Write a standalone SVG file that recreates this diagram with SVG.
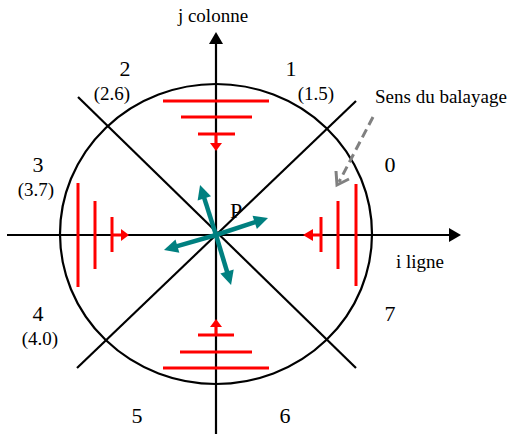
<svg xmlns="http://www.w3.org/2000/svg" width="510" height="434" viewBox="0 0 510 434">
<style>
.t{font-family:"Liberation Serif","Times New Roman",serif;fill:#000}
.n{font-size:22px}
.s{font-size:19px}
.l{font-size:19px}
.k{stroke:#000;stroke-width:2.2;fill:none}
.r{stroke:#ff0000;stroke-width:3;fill:none}
.rf{fill:#ff0000;stroke:none}
.tl{stroke:#008080;stroke-width:4.5;fill:none;marker-end:url(#ta)}
</style>
<defs>
<marker id="ta" markerUnits="userSpaceOnUse" viewBox="-4 -8 20 16" markerWidth="20" markerHeight="16" refX="0" refY="0" orient="auto">
<path d="M-2,-7 L12,0 L-2,7 z" fill="#008080"/>
</marker>
</defs>
<g id="axes">
<line class="k" x1="216" y1="434" x2="216" y2="42"/>
<polygon points="209,44 223,44 216,32" fill="#000"/>
<line class="k" x1="7" y1="235" x2="450" y2="235"/>
<polygon points="449,228 449,242 461,235" fill="#000"/>
</g>
<g id="circle"><ellipse class="k" cx="216" cy="234" rx="156" ry="150" stroke-width="2.5"/></g>
<g id="diagonals">
<line class="k" x1="78" y1="97" x2="356" y2="368"/>
<line class="k" x1="77" y1="368" x2="356" y2="101"/>
</g>
<g id="scan-top">
<line class="r" x1="163" y1="101" x2="269" y2="101"/>
<line class="r" x1="181" y1="117" x2="252" y2="117"/>
<line class="r" x1="198" y1="134" x2="235" y2="134"/>
<line class="r" x1="216" y1="134" x2="216" y2="144"/>
<polygon class="rf" points="210,143 222,143 216,151"/>
</g>
<g id="scan-bottom">
<line class="r" x1="163" y1="368" x2="269" y2="368"/>
<line class="r" x1="180" y1="352" x2="252" y2="352"/>
<line class="r" x1="198" y1="335" x2="234" y2="335"/>
<line class="r" x1="216" y1="326" x2="216" y2="335"/>
<polygon class="rf" points="210,327 222,327 216,319"/>
</g>
<g id="scan-left">
<line class="r" x1="78" y1="183" x2="78" y2="287"/>
<line class="r" x1="95" y1="201" x2="95" y2="269"/>
<line class="r" x1="112" y1="217" x2="112" y2="252"/>
<line class="r" x1="112" y1="235" x2="122" y2="235"/>
<polygon class="rf" points="121,229 121,241 129,235"/>
</g>
<g id="scan-right">
<line class="r" x1="356" y1="184" x2="356" y2="286"/>
<line class="r" x1="338" y1="201" x2="338" y2="269"/>
<line class="r" x1="321" y1="217" x2="321" y2="252"/>
<line class="r" x1="312" y1="235" x2="321" y2="235"/>
<polygon class="rf" points="313,229 313,241 303,235"/>
</g>
<g id="connectors">
<line class="tl" x1="216" y1="235" x2="203.7" y2="196.4"/>
<line class="tl" x1="216" y1="235" x2="256.6" y2="221.7"/>
<line class="tl" x1="216" y1="235" x2="175.5" y2="246.7"/>
<line class="tl" x1="216" y1="235" x2="227.6" y2="273.5"/>
<line x1="373" y1="117" x2="339" y2="182" stroke="#808080" stroke-width="3" stroke-dasharray="9,5"/>
<polyline points="336,171 337,185 349,179" stroke="#808080" stroke-width="3" fill="none"/>
</g>
<g id="labels">
<text class="t l" x="213" y="22" text-anchor="middle">j colonne</text>
<text class="t n" x="125" y="76" text-anchor="middle">2</text>
<text class="t s" x="112" y="100" text-anchor="middle">(2.6)</text>
<text class="t n" x="291" y="76" text-anchor="middle">1</text>
<text class="t s" x="316" y="100" text-anchor="middle">(1.5)</text>
<text class="t l" x="375" y="103">Sens du balayage</text>
<text class="t n" x="390" y="172" text-anchor="middle">0</text>
<text class="t n" x="38" y="172" text-anchor="middle">3</text>
<text class="t s" x="36" y="196" text-anchor="middle">(3.7)</text>
<text class="t n" x="236" y="218" text-anchor="middle">P</text>
<text class="t l" x="396" y="268">i ligne</text>
<text class="t n" x="38" y="321" text-anchor="middle">4</text>
<text class="t s" x="40" y="345" text-anchor="middle">(4.0)</text>
<text class="t n" x="137" y="423" text-anchor="middle">5</text>
<text class="t n" x="285" y="423" text-anchor="middle">6</text>
<text class="t n" x="390" y="321" text-anchor="middle">7</text>
</g>
</svg>
